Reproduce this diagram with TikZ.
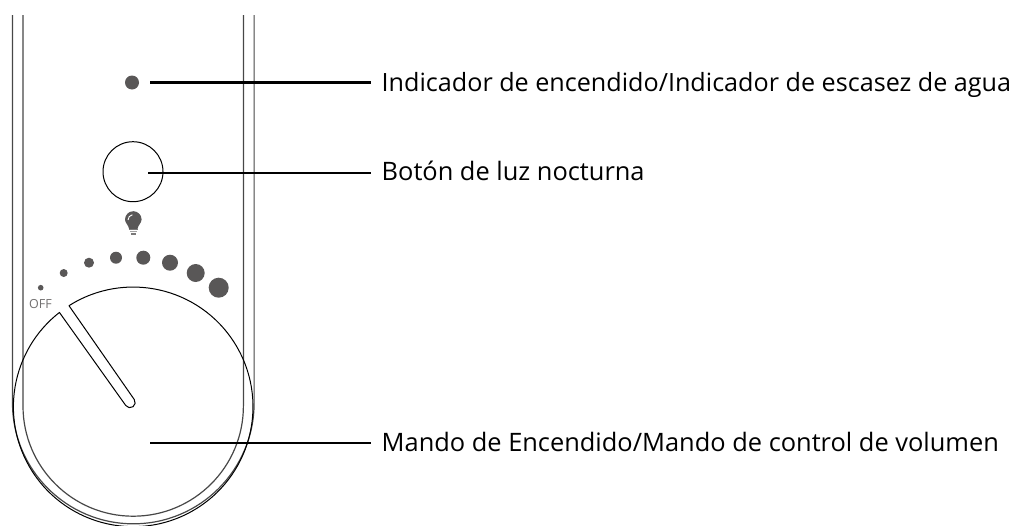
\documentclass[tikz,border=0pt]{standalone}
\usepackage{fontspec}
\setmainfont{Open Sans}
\definecolor{dotgray}{HTML}{595757}
\tikzset{
	leader/.style={draw=black,line width=2.2pt},
	partlabel/.style={anchor=west,inner xsep=11pt,inner ysep=0pt,text height=17pt,text depth=0pt,font=\fontsize{25.4}{30}\selectfont,text=black},
	shell/.style={draw=black!72,line width=1.2pt},
	dial/.style={draw=black,line width=1pt},
}
\begin{document}
\begin{tikzpicture}[x=1pt,y=1pt]
\def\DOTCOLOR{dotgray}
	\useasboundingbox (0,-525) rectangle (1014,0);
	% body of the unit
	\draw[shell] (12.5,-15) -- (12.5,-403) arc[start angle=180,end angle=360,radius=120.8] -- (254.1,-15);
	\draw[shell] (23,-15) -- (23,-406) arc[start angle=180,end angle=360,radius=110.2] -- (243.4,-15);
	% indicator and button
	\fill[\DOTCOLOR] (132,-82.5) circle[radius=7];
	\draw[dial] (133,-171.7) circle[radius=30];
	% bulb
	\fill[\DOTCOLOR] (125,-219.5) arc[start angle=180,end angle=0,radius=8.3] .. controls (141.6,-223) and (138,-225) .. (137.5,-229) -- (129.1,-229) .. controls (128.6,-225) and (125,-223) .. (125,-219.5) -- cycle;
	\draw[white,line width=0.9pt] (128,-220) arc[start angle=180,end angle=100,radius=5.3];
	\fill[\DOTCOLOR!80] (129.1,-230) rectangle ++ (8.4,1.3);
	\fill[\DOTCOLOR!55] (129.6,-232.2) rectangle ++ (7.4,1.3);
	\fill[\DOTCOLOR!80] (130.6,-234.6) rectangle ++ (5.4,1.4);
	% volume scale
	\fill[\DOTCOLOR] (40.7,-287.7) circle[radius=2.8];
	\fill[\DOTCOLOR] (63.7,-273) circle[radius=4];
	\fill[\DOTCOLOR] (89,-262.7) circle[radius=5];
	\fill[\DOTCOLOR] (116,-257.7) circle[radius=6];
	\fill[\DOTCOLOR] (143.3,-257.7) circle[radius=7];
	\fill[\DOTCOLOR] (170,-262.7) circle[radius=8];
	\fill[\DOTCOLOR] (195.7,-273) circle[radius=9];
	\fill[\DOTCOLOR] (218.7,-287.7) circle[radius=10];
	\node[inner sep=0pt,text=\DOTCOLOR!85,font=\fontsize{12.5}{14}\selectfont] (offlabel) at (40.5,-304.3) {OFF};
	% knob with its pointer slot
	\draw[dial,line join=round] (69,-305.7) arc[start angle=122.4,end angle=-232,radius=119.8] -- (125.76,-405.5) arc[start angle=215.3,end angle=395.3,radius=5.2] -- cycle;
	% labels
	\coordinate (ledend) at (150,-82.5);
	\coordinate (buttonend) at (148,-173.3);
	\coordinate (knobend) at (150,-442.7);
	\node[partlabel,font=\fontsize{25.15}{30}\selectfont] (ledlabel) at (370.5,-82.5) {Indicador de encendido/Indicador de escasez de agua};
	\node[partlabel] (buttonlabel) at (370.5,-171.5) {Botón de luz nocturna};
	\node[partlabel] (knoblabel) at (370.5,-442.5) {Mando de Encendido/Mando de control de volumen};
	\draw[leader] (ledend) -- (ledend -| ledlabel.west);
	\draw[leader] (buttonend) -- (buttonend -| buttonlabel.west);
	\draw[leader] (knobend) -- (knobend -| knoblabel.west);
\end{tikzpicture}
\end{document}
